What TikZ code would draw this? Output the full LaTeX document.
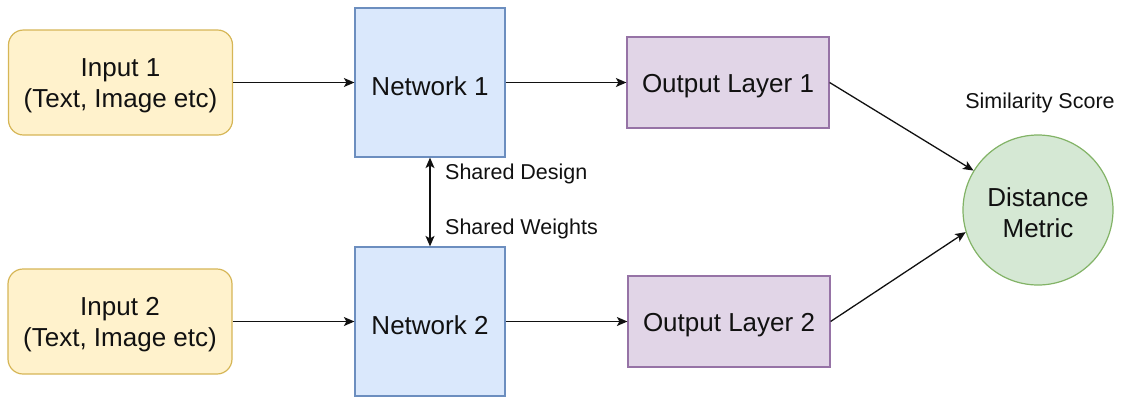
\documentclass[tikz,border=0pt]{standalone}
\usepackage{fontspec}
\setmainfont{Liberation Sans}
\usetikzlibrary{arrows.meta}

\definecolor{inFill}{HTML}{FFF2CC}
\definecolor{inLine}{HTML}{D6B656}
\definecolor{netFill}{HTML}{DAE8FC}
\definecolor{netLine}{HTML}{6C8EBF}
\definecolor{outFill}{HTML}{E1D5E7}
\definecolor{outLine}{HTML}{9673A6}
\definecolor{metFill}{HTML}{D5E8D4}
\definecolor{metLine}{HTML}{82B366}
\definecolor{ink}{HTML}{111111}

\tikzset{
  box/.style={draw, line width=1.2pt, inner sep=0pt},
  boxtext/.style={inner sep=0pt, align=center,
    font=\fontsize{26}{31}\selectfont, text=ink},
  inputbox/.style={box, fill=inFill, draw=inLine, rounded corners=15pt,
    minimum width=224pt, minimum height=105pt},
  netbox/.style={box, fill=netFill, draw=netLine,
    minimum width=150pt, minimum height=149pt},
  outbox/.style={box, fill=outFill, draw=outLine,
    minimum width=202pt, minimum height=91pt},
  metric/.style={box, circle, fill=metFill, draw=metLine, minimum size=150pt},
  note/.style={inner sep=0pt, font=\fontsize{21.5}{25}\selectfont, text=ink},
  headtip/.tip={Stealth[length=10.5pt,width=9pt,inset=2.5pt]},
  flow/.style={draw=ink, line width=1.3pt, -{headtip}},
  twoway/.style={draw=ink, line width=1.3pt, {headtip}-{headtip}}
}

\begin{document}
\begin{tikzpicture}[x=1pt, y=-1pt]
  \useasboundingbox (0,0) rectangle (1125,397);

  % inputs
  \node[inputbox] (in1) at (120.5,82.5) {};
  \node[inputbox] (in2) at (120,321.5) {};

  % twin networks
  \node[netbox] (net1) at (430,82.5) {};
  \node[netbox] (net2) at (430,321.5) {};

  % output layers
  \node[outbox] (out1) at (728,82.5) {};
  \node[outbox] (out2) at (729,321.5) {};

  % distance metric
  \node[metric] (dm) at (1038,210) {};

  % box captions, set a little below the centre line
  \node[boxtext] (in1txt) at ([yshift=-3pt]in1.center) {Input 1\\(Text, Image etc)};
  \node[boxtext] (in2txt) at ([yshift=-3pt]in2.center) {Input 2\\(Text, Image etc)};
  \node[boxtext] (net1txt) at ([yshift=-3.5pt]net1.center) {Network 1};
  \node[boxtext] (net2txt) at ([yshift=-3.5pt]net2.center) {Network 2};
  \node[boxtext] (out1txt) at ([yshift=-3.5pt]out1.center) {Output Layer 1};
  \node[boxtext] (out2txt) at ([yshift=-3.5pt]out2.center) {Output Layer 2};
  \node[boxtext] (dmtxt) at ([yshift=-3pt]dm.center) {Distance\\Metric};

  % free labels
  \node[note, anchor=base] (sim) at (1040,108) {Similarity Score};
  \node[note, anchor=base west] (design) at (445,179) {Shared Design};
  \node[note, anchor=base west] (weights) at (445,234) {Shared Weights};

  % connectors
  \draw[flow] (in1) -- (net1);
  \draw[flow] (in2) -- (net2);
  \draw[flow] (net1) -- (out1);
  \draw[flow] (net2) -- (out2);
  \draw[flow] (out1.east) -- (dm);
  \draw[flow] (out2.east) -- (dm.197);
  \draw[twoway] (net1.south) -- (net2.north);
\end{tikzpicture}
\end{document}
